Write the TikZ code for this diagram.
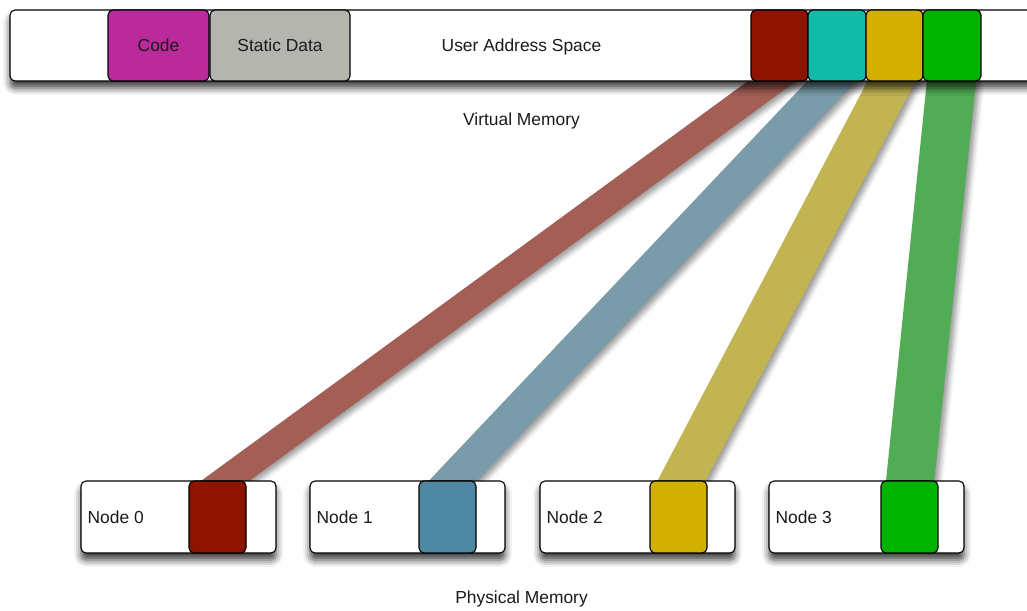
\documentclass[tikz,border=0pt]{standalone}
\usepackage{fontspec}
\setmainfont{Liberation Sans}
\usetikzlibrary{calc,shadows.blur}
\pgfdeclarelayer{bands}
\pgfsetlayers{bands,main}

\definecolor{codecol}{HTML}{BA2A9B}
\definecolor{staticcol}{HTML}{B5B5AF}
\definecolor{redcol}{HTML}{8F1400}
\definecolor{tealcol}{HTML}{12BBA8}
\definecolor{yellowcol}{HTML}{D1B000}
\definecolor{greencol}{HTML}{00B300}
\definecolor{bluecol}{HTML}{4F88A3}
\definecolor{redband}{HTML}{A35E55}
\definecolor{blueband}{HTML}{7A9CAA}
\definecolor{yellowband}{HTML}{C2B452}
\definecolor{greenband}{HTML}{52AB55}
\definecolor{inkcol}{HTML}{1A1A1A}

\tikzset{
  softshadow/.style={blur shadow={shadow xshift=0pt, shadow yshift=-7pt,
      shadow blur radius=7pt, shadow opacity=75}},
  cell/.style={draw=black, line width=1.1pt, rounded corners=5pt,
      inner sep=0pt, minimum height=71pt},
  pagecell/.style={cell, minimum width=57pt},
  nodebox/.style={cell, fill=white, minimum width=195pt, minimum height=72pt,
      softshadow},
  label/.style={text=inkcol, inner sep=0pt, anchor=base,
      font=\fontsize{17.4}{20}\selectfont},
  band/.style={blur shadow={shadow xshift=4pt, shadow yshift=-3pt,
      shadow blur radius=5pt, shadow opacity=40}},
}

% a strip linking a virtual page to its physical frame
\newcommand\pagelink[3]{%
  \begin{pgfonlayer}{bands}
    \fill[#3, band] ($(#1.south west)+(5,-6)$) -- ($(#1.south east)+(-5,-6)$)
      -- ($(#2.north east)+(-5,6)$) -- ($(#2.north west)+(5,6)$) -- cycle;
  \end{pgfonlayer}}

\begin{document}
\begin{tikzpicture}[x=1pt, y=-1pt]
\useasboundingbox (0,0) rectangle (1027,610);

% virtual address space
\node[cell, fill=white, minimum width=1030pt, softshadow] (vas) at (525,45.5) {};
\node[cell, fill=codecol, minimum width=101pt] (code) at (158.5,45.5) {};
\node[cell, fill=staticcol, minimum width=140pt] (static) at (280,45.5) {};
\node[pagecell, fill=redcol, minimum width=57pt] (v0) at (779.5,45.5) {};
\node[pagecell, fill=tealcol, minimum width=58pt] (v1) at (837,45.5) {};
\node[pagecell, fill=yellowcol, minimum width=57pt] (v2) at (894.5,45.5) {};
\node[pagecell, fill=greencol, minimum width=58pt] (v3) at (952,45.5) {};

\node[label] (tcode) at (158.5,51.5) {Code};
\node[label] (tstatic) at (280,51.5) {Static Data};
\node[label] (tuas) at (521.5,51.5) {User Address Space};
\node[label] (tvm) at (521.5,125.5) {Virtual Memory};

% physical memory nodes
\node[nodebox] (n0) at (178.5,517) {};
\node[nodebox] (n1) at (407.5,517) {};
\node[nodebox] (n2) at (637.5,517) {};
\node[nodebox] (n3) at (866.5,517) {};

\node[pagecell, fill=redcol, minimum height=72pt] (p0) at (217.5,517) {};
\node[pagecell, fill=bluecol, minimum height=72pt] (p1) at (447.5,517) {};
\node[pagecell, fill=yellowcol, minimum height=72pt] (p2) at (678.5,517) {};
\node[pagecell, fill=greencol, minimum height=72pt] (p3) at (909.5,517) {};

\node[label, anchor=base west] (l0) at ($(n0.west)+(7,6)$) {Node 0};
\node[label, anchor=base west] (l1) at ($(n1.west)+(7,6)$) {Node 1};
\node[label, anchor=base west] (l2) at ($(n2.west)+(7,6)$) {Node 2};
\node[label, anchor=base west] (l3) at ($(n3.west)+(7,6)$) {Node 3};

\node[label] (tpm) at (521.5,603.5) {Physical Memory};

% page mappings
\pagelink{v0}{p0}{redband}
\pagelink{v1}{p1}{blueband}
\pagelink{v2}{p2}{yellowband}
\pagelink{v3}{p3}{greenband}
\end{tikzpicture}
\end{document}
